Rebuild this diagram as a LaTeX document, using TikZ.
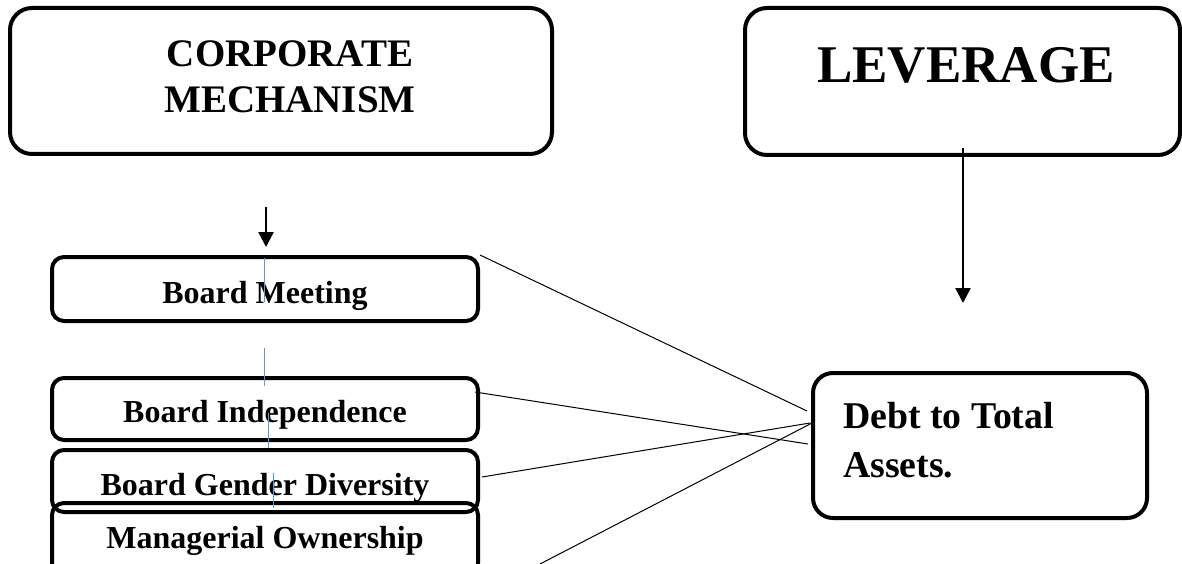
\documentclass[tikz,border=0pt]{standalone}
\usepackage{fontspec}
\setmainfont{Liberation Serif}
\usetikzlibrary{arrows.meta}
\definecolor{cblue}{RGB}{91,155,213}
\begin{document}
\begin{tikzpicture}[x=1pt,y=-1pt,
  bigbox/.style={draw, line width=4pt, rounded corners=22pt, inner sep=0pt},
  smallbox/.style={draw, line width=4pt, rounded corners=12pt, inner sep=0pt},
  conn/.style={line width=1pt},
  arr/.style={line width=2.5pt, -{Triangle[width=15pt,length=15pt]}},
  cursor/.style={draw=cblue, line width=1pt},
  txt/.style={font=\bfseries\fontsize{32}{36}\selectfont, inner sep=0pt, anchor=base}]
\useasboundingbox (0,0) rectangle (1182,564);
\clip (0,0) rectangle (1182,564);

% big boxes
\node[bigbox, minimum width=542pt, minimum height=146pt] (corp) at (281,81) {};
\node[bigbox, minimum width=435pt, minimum height=147pt] (lev) at (962.5,81.5) {};
\node[inner sep=0pt, align=center, font=\bfseries\fontsize{39}{46}\selectfont, anchor=base] (tcorp) at (290,113) {CORPORATE\\MECHANISM};
\node[inner sep=0pt, font=\bfseries\fontsize{53}{60}\selectfont, anchor=base] (tlev) at (966,83) {LEVERAGE};

% small boxes
\node[smallbox, minimum width=426pt, minimum height=64pt] (bm) at (265,289) {};
\node[smallbox, minimum width=426pt, minimum height=62pt] (bi) at (265,409) {};
\node[smallbox, minimum width=426pt, minimum height=62pt] (bg) at (265,481) {};
\node[smallbox, minimum width=426pt, minimum height=72pt] (mo) at (265,539) {};
\node[txt] (tbm) at (265,303) {Board Meeting};
\node[txt] (tbi) at (265,422) {Board Independence};
\node[txt] (tbg) at (265,495) {Board Gender Diversity};
\node[txt] (tmo) at (265,548) {Managerial Ownership};

% debt box
\node[smallbox, rounded corners=20pt, minimum width=334pt, minimum height=145pt] (debt) at (980,445.5) {};
\node[inner sep=0pt, align=left, font=\bfseries\fontsize{37.8}{49}\selectfont, anchor=base west] (tdebt) at (843,477) {Debt to Total\\Assets.};

% arrows
\coordinate (a1s) at (266,207);
\coordinate (a1e) at (266,247);
\draw[arr] (a1s) -- (a1e);
\coordinate (a2s) at (963,148);
\coordinate (a2e) at (963,303);
\draw[arr] (a2s) -- (a2e);

% connectors
\coordinate (e1) at (807,411);
\coordinate (e2) at (808,444);
\coordinate (e3) at (810,423);
\coordinate (e4) at (812,423);
\coordinate (s2) at (475,392);
\coordinate (s3) at (482,477);
\coordinate (s4) at (540,564);
\draw[conn] (bm.north east) -- (e1);
\draw[conn] (s2) -- (e2);
\draw[conn] (s3) -- (e3);
\draw[conn] (s4) -- (e4);

% blue cursor marks
\draw[cursor] (264,258) -- (264,302);
\draw[cursor] (264,348) -- (264,386);
\draw[cursor] (268,413) -- (268,448);
\draw[cursor] (273,473) -- (273,508);
\end{tikzpicture}
\end{document}
